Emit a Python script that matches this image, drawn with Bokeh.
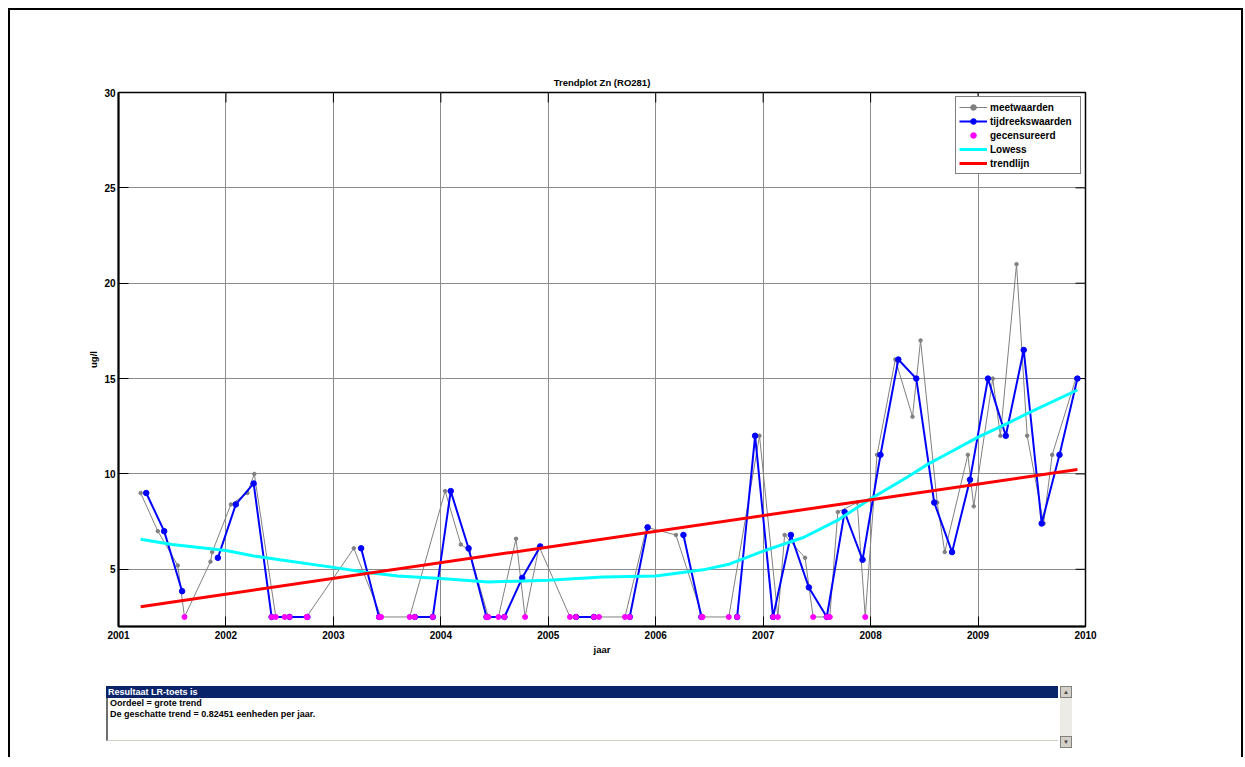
import numpy as np
from bokeh.plotting import figure
from bokeh.models import Range1d, FixedTicker, Legend, LegendItem, Div
from bokeh.layouts import column
from bokeh.embed import file_html
from bokeh.resources import INLINE

FONT = "Liberation Sans"
NAN = float("nan")

# ---------------- data ----------------
title_text = "Trendplot Zn (RO281)"
x_label = "jaar"
y_label = "ug/l"
year_ticks = [2001, 2002, 2003, 2004, 2005, 2006, 2007, 2008, 2009, 2010]
value_ticks = [5, 10, 15, 20, 25, 30]
censor_level = 2.5

# meetwaarden (measured values)
meet_t = [2001.206, 2001.366, 2001.552, 2001.614, 2001.856, 2001.872, 2002.046, 2002.200,
          2002.264, 2002.464, 2002.547, 2002.750, 2003.190, 2003.444, 2003.710, 2004.040,
          2004.186, 2004.264, 2004.443, 2004.536, 2004.700, 2004.784, 2004.914, 2005.202,
          2005.472, 2005.714, 2005.915, 2006.188, 2006.436, 2006.680, 2006.966, 2007.137,
          2007.200, 2007.390, 2007.465, 2007.620, 2007.695, 2007.875, 2007.950, 2008.060,
          2008.230, 2008.390, 2008.465, 2008.620, 2008.690, 2008.905, 2008.960, 2009.137,
          2009.208, 2009.358, 2009.457, 2009.610, 2009.690, 2009.910]
meet_v = [9.0, 7.0, 5.2, 2.5, 5.4, 5.9, 8.4, 9.0,
          10.0, 2.5, 2.5, 2.5, 6.1, 2.5, 2.5, 9.1,
          6.3, 6.0, 2.5, 2.5, 6.6, 2.5, 6.2, 2.5,
          2.5, 2.5, 7.2, 6.8, 2.5, 2.5, 12.0, 2.5,
          6.8, 5.6, 2.5, 2.5, 8.0, 8.5, 2.5, 11.0,
          16.0, 13.0, 17.0, 8.5, 5.9, 11.0, 8.3, 15.0,
          12.0, 21.0, 12.0, 7.4, 11.0, 15.0]

# tijdreekswaarden (bi-monthly time series, gaps = NaN)
tijd_t = [2001.258, 2001.425, 2001.592, 2001.758, 2001.925, 2002.092, 2002.258, 2002.425,
          2002.592, 2002.758, 2002.925, 2003.092, 2003.258, 2003.425, 2003.592, 2003.758,
          2003.925, 2004.092, 2004.258, 2004.425, 2004.592, 2004.758, 2004.925, 2005.092,
          2005.258, 2005.425, 2005.592, 2005.758, 2005.925, 2006.092, 2006.258, 2006.425,
          2006.592, 2006.758, 2006.925, 2007.092, 2007.258, 2007.425, 2007.592, 2007.758,
          2007.925, 2008.092, 2008.258, 2008.425, 2008.592, 2008.758, 2008.925, 2009.092,
          2009.258, 2009.425, 2009.592, 2009.758, 2009.925]
tijd_v = [9.0, 7.0, 3.85, NAN, 5.6, 8.4, 9.5, 2.5,
          2.5, 2.5, NAN, NAN, 6.1, 2.5, NAN, 2.5,
          2.5, 9.1, 6.1, 2.5, 2.5, 4.55, 6.2, NAN,
          2.5, 2.5, NAN, 2.5, 7.2, NAN, 6.8, 2.5,
          NAN, 2.5, 12.0, 2.5, 6.8, 4.05, 2.5, 8.0,
          5.5, 11.0, 16.0, 15.0, 8.5, 5.9, 9.7, 15.0,
          12.0, 16.5, 7.4, 11.0, 15.0]

# Lowess curve
lowess_t = [2001.206, 2001.5, 2002.0, 2002.26, 2002.5, 2003.0, 2003.3, 2003.6, 2004.0,
            2004.44, 2005.0, 2005.51, 2006.0, 2006.44, 2006.69, 2007.0, 2007.38, 2007.69,
            2008.0, 2008.34, 2008.53, 2008.77, 2009.0, 2009.27, 2009.49, 2009.925]
lowess_v = [6.58, 6.3, 5.98, 5.7, 5.5, 5.1, 4.84, 4.65, 4.52,
            4.33, 4.43, 4.6, 4.65, 4.97, 5.28, 5.95, 6.68, 7.56,
            8.7, 9.83, 10.5, 11.23, 11.93, 12.64, 13.25, 14.4]

# trendlijn
trend_t = [2001.206, 2009.925]
trend_v = [3.04, 10.23]

legend_labels = ["meetwaarden", "tijdreekswaarden", "gecensureerd", "Lowess", "trendlijn"]

result_header = "Resultaat LR-toets is"
result_lines = ["Oordeel = grote trend", "De geschatte trend = 0.82451 eenheden per jaar."]

# ---------------- derived ----------------
meet_t_a = np.array(meet_t); meet_v_a = np.array(meet_v)
tijd_t_a = np.array(tijd_t); tijd_v_a = np.array(tijd_v)
cm = meet_v_a == censor_level
ct = tijd_v_a == censor_level
cens_t = np.concatenate([meet_t_a[cm], tijd_t_a[ct]])
cens_v = np.concatenate([meet_v_a[cm], tijd_v_a[ct]])

# ---------------- main plot ----------------
X0, X1 = 2001, 2010
Y0, Y1 = 2, 30
FIG_W = 1231
ML, MR, MT, MB = 108, 156, 82, 54
MAIN_H = 670
frame_w = FIG_W - ML - MR
frame_h = MAIN_H - MT - MB
TICK_PX = 10

p = figure(width=FIG_W, height=MAIN_H, x_range=Range1d(X0, X1), y_range=Range1d(Y0, Y1),
           output_backend="svg", toolbar_location=None, title=title_text,
           min_border_left=ML, min_border_right=MR, min_border_top=MT, min_border_bottom=MB)
p.background_fill_color = "white"
p.border_fill_color = "white"
p.outline_line_color = "black"
p.outline_line_width = 1.5

p.title.align = "center"
p.title.text_font = FONT
p.title.text_font_size = "9.5px"
p.title.text_font_style = "bold"
p.title.text_color = "black"

p.xaxis.ticker = FixedTicker(ticks=year_ticks)
p.yaxis.ticker = FixedTicker(ticks=value_ticks)
p.xaxis.axis_label = x_label
p.yaxis.axis_label = y_label
for ax in (p.xaxis[0], p.yaxis[0]):
    ax.axis_line_width = 2
    ax.axis_line_color = "black"
    ax.major_tick_in = TICK_PX
    ax.major_tick_out = 0
    ax.major_tick_line_color = "black"
    ax.minor_tick_line_color = None
    ax.major_label_text_font = FONT
    ax.major_label_text_font_size = "10px"
    ax.major_label_text_font_style = "bold"
    ax.major_label_text_color = "black"
    ax.axis_label_text_font = FONT
    ax.axis_label_text_font_size = "9.5px"
    ax.axis_label_text_font_style = "bold"
    ax.axis_label_text_color = "black"
    ax.axis_label_standoff = 2
p.xaxis.major_label_standoff = 4
p.yaxis.major_label_standoff = 3

p.xgrid.ticker = FixedTicker(ticks=year_ticks)
p.ygrid.ticker = FixedTicker(ticks=value_ticks)
p.grid.grid_line_color = "#8c8c8c"
p.grid.grid_line_width = 1

# inward ticks on the top and right frame edges (MATLAB box style)
dy_tick = TICK_PX * (Y1 - Y0) / frame_h
dx_tick = TICK_PX * (X1 - X0) / frame_w
p.segment(x0=year_ticks, y0=[Y1] * len(year_ticks), x1=year_ticks,
          y1=[Y1 - dy_tick] * len(year_ticks), line_color="black", line_width=1)
p.segment(x0=[X1] * len(value_ticks), y0=value_ticks, x1=[X1 - dx_tick] * len(value_ticks),
          y1=value_ticks, line_color="black", line_width=1)

r_meet_l = p.line(meet_t_a, meet_v_a, line_color="#808080", line_width=1)
r_meet_p = p.scatter(meet_t_a, meet_v_a, size=3.5, color="#808080")
r_tijd_l = p.line(tijd_t_a, tijd_v_a, line_color="#0000ff", line_width=2)
r_tijd_p = p.scatter(tijd_t_a, tijd_v_a, size=5.5, color="#0000ff")
r_cens = p.scatter(cens_t, cens_v, size=5, color="#ff00ff")
r_low = p.line(lowess_t, lowess_v, line_color="#00ffff", line_width=3)
r_trend = p.line(trend_t, trend_v, line_color="#ff0000", line_width=3)

legend = Legend(items=[
    LegendItem(label=legend_labels[0], renderers=[r_meet_l, r_meet_p]),
    LegendItem(label=legend_labels[1], renderers=[r_tijd_l, r_tijd_p]),
    LegendItem(label=legend_labels[2], renderers=[r_cens]),
    LegendItem(label=legend_labels[3], renderers=[r_low]),
    LegendItem(label=legend_labels[4], renderers=[r_trend]),
], location="top_right")
legend.margin = 4
legend.padding = 3
legend.spacing = 0
legend.glyph_width = 28
legend.glyph_height = 14
legend.label_height = 14
legend.label_width = 87
legend.label_standoff = 3
legend.border_line_color = "black"
legend.border_line_width = 1
legend.background_fill_color = "white"
legend.background_fill_alpha = 1
legend.label_text_font = FONT
legend.label_text_font_size = "10px"
legend.label_text_font_style = "bold"
legend.label_text_color = "black"
p.add_layout(legend)

# ---------------- result text box (listbox-like panel) ----------------
txt = "font-family:'Liberation Sans',Arial,sans-serif;font-weight:bold;font-size:9px;"
body_rows = "".join(
    f"<div style='height:10.5px;line-height:10.5px;white-space:nowrap;color:black;'>{s}</div>"
    for s in result_lines)
box_html = f"""
<div style="position:relative;width:{FIG_W}px;height:77px;background:white;{txt}">
  <div style="position:absolute;left:96px;top:6px;width:952px;height:12px;padding-left:2px;
              background:#0a246a;color:white;line-height:12px;white-space:nowrap;">{result_header}</div>
  <div style="position:absolute;left:96px;top:18px;width:952px;height:43px;padding-left:2px;
              border-left:2px solid #6e6e6e;border-bottom:1.5px solid #d4d0c8;box-sizing:border-box;">{body_rows}</div>
  <div style="position:absolute;left:1050px;top:6px;width:12px;height:62px;background:#ecebe6;"></div>
  <div style="position:absolute;left:1050px;top:6px;width:12px;height:12px;box-sizing:border-box;
              background:#d4d0c8;border:1px solid #808080;color:#404040;font-size:6px;line-height:10px;
              text-align:center;">&#9650;</div>
  <div style="position:absolute;left:1050px;top:56px;width:12px;height:12px;box-sizing:border-box;
              background:#d4d0c8;border:1px solid #808080;color:#404040;font-size:6px;line-height:10px;
              text-align:center;">&#9660;</div>
</div>
"""
box = Div(text=box_html, width=FIG_W, height=77, styles={"margin": "0", "padding": "0"})

layout = column(p, box, spacing=0,
                styles={"margin-left": "8px", "margin-top": "8px",
                        "border-left": "2px solid black", "border-top": "2px solid black",
                        "border-right": "2px solid black"})

open("out.html", "w").write(file_html(layout, INLINE))
